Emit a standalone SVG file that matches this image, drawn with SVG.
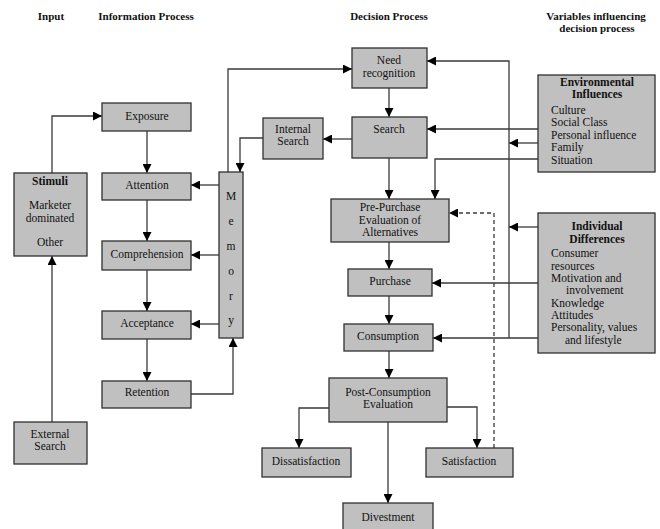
<svg xmlns="http://www.w3.org/2000/svg" width="660" height="529" viewBox="0 0 660 529">
<defs>
<marker id="ah" markerUnits="userSpaceOnUse" markerWidth="9" markerHeight="9" refX="9" refY="4.5" orient="auto">
<path d="M0,0 L9,4.5 L0,9 z" fill="#000"/>
</marker>
<style>
text{font-family:'Liberation Serif','Times New Roman','DejaVu Serif',serif}
.box{fill:#c0c0c0;stroke:#303030;stroke-width:1.3}
.t{font-size:11.5px;fill:#111;text-anchor:middle}
.l{text-anchor:start}
.b{font-weight:bold}
.h{font-size:11px;font-weight:bold;fill:#111;text-anchor:middle}
.c{fill:none;stroke:#3a3a3a;stroke-width:1.3}
.a{marker-end:url(#ah)}
.d{stroke-dasharray:4,3}
</style>
</defs>
<rect width="660" height="529" fill="#fff"/>
<g id="headers" font-family="Liberation Serif, serif">
<text class="h" x="51" y="20">Input</text>
<text class="h" x="146" y="20">Information Process</text>
<text class="h" x="389" y="20">Decision Process</text>
<text class="h" x="596" y="20">Variables influencing</text>
<text class="h" x="597" y="32">decision process</text>
</g>
<g id="connectors">
<path class="c a" d="M52,422 V256"/>
<path class="c a" d="M52,173 V116 H102"/>
<path class="c a" d="M147,131 V173"/>
<path class="c a" d="M147,200 V241"/>
<path class="c a" d="M147,270 V311"/>
<path class="c a" d="M147,339 V381"/>
<path class="c a" d="M191,394 H233 V338"/>
<path class="c a" d="M219,185 H191"/>
<path class="c a" d="M219,255 H191"/>
<path class="c a" d="M219,324 H191"/>
<path class="c a" d="M228,172 V69 H352"/>
<path class="c a" d="M389,88 V117"/>
<path class="c a" d="M352,139 H323"/>
<path class="c a" d="M263,138 H240 V172"/>
<path class="c a" d="M389,158 V199"/>
<path class="c a" d="M389,242 V269"/>
<path class="c a" d="M389,296 V324"/>
<path class="c a" d="M389,351 V378"/>
<path class="c a" d="M329,408 H299 V448"/>
<path class="c a" d="M447,407 H477 V448"/>
<path class="c a" d="M388,422 V503"/>
<path class="c a d" d="M494,448 V213 H449"/>
<path class="c a" d="M538,129 H427"/>
<path class="c a" d="M538,143 H509"/>
<path class="c a" d="M509,338 V61 H427"/>
<path class="c a" d="M538,159 H435 V199"/>
<path class="c a" d="M538,227 H509"/>
<path class="c a" d="M538,283 H432"/>
<path class="c a" d="M538,338 H433"/>
</g>
<g id="stimuli">
<rect class="box" x="14" y="173" width="73" height="83"/>
<text class="t b" x="50" y="185">Stimuli</text>
<text class="t" x="50" y="209">Marketer</text>
<text class="t" x="50" y="222">dominated</text>
<text class="t" x="50" y="246">Other</text>
</g>
<g id="external-search">
<rect class="box" x="14" y="422" width="73" height="42"/>
<text class="t" x="50" y="438">External</text>
<text class="t" x="50" y="450">Search</text>
</g>
<g id="exposure">
<rect class="box" x="102" y="103" width="89" height="28"/>
<text class="t" x="147" y="120">Exposure</text>
</g>
<g id="attention">
<rect class="box" x="102" y="173" width="89" height="27"/>
<text class="t" x="147" y="189">Attention</text>
</g>
<g id="comprehension">
<rect class="box" x="102" y="241" width="89" height="29"/>
<text class="t" x="147" y="258">Comprehension</text>
</g>
<g id="acceptance">
<rect class="box" x="102" y="311" width="89" height="28"/>
<text class="t" x="147" y="327">Acceptance</text>
</g>
<g id="retention">
<rect class="box" x="102" y="381" width="89" height="27"/>
<text class="t" x="147" y="396">Retention</text>
</g>
<g id="memory">
<rect class="box" x="219" y="172" width="24" height="166"/>
<text class="t" x="231" y="200">M</text>
<text class="t" x="231" y="225">e</text>
<text class="t" x="231" y="250">m</text>
<text class="t" x="231" y="275">o</text>
<text class="t" x="231" y="300">r</text>
<text class="t" x="231" y="324">y</text>
</g>
<g id="internal-search">
<rect class="box" x="263" y="118" width="60" height="41"/>
<text class="t" x="293" y="133">Internal</text>
<text class="t" x="293" y="145">Search</text>
</g>
<g id="need-recognition">
<rect class="box" x="352" y="48" width="75" height="40"/>
<text class="t" x="389" y="64">Need</text>
<text class="t" x="389" y="77">recognition</text>
</g>
<g id="search">
<rect class="box" x="352" y="117" width="75" height="41"/>
<text class="t" x="389" y="133">Search</text>
</g>
<g id="pre-purchase">
<rect class="box" x="331" y="199" width="118" height="43"/>
<text class="t" x="390" y="211">Pre-Purchase</text>
<text class="t" x="390" y="224">Evaluation of</text>
<text class="t" x="390" y="236">Alternatives</text>
</g>
<g id="purchase">
<rect class="box" x="348" y="269" width="84" height="27"/>
<text class="t" x="390" y="285">Purchase</text>
</g>
<g id="consumption">
<rect class="box" x="344" y="324" width="89" height="27"/>
<text class="t" x="388" y="340">Consumption</text>
</g>
<g id="post-consumption">
<rect class="box" x="329" y="378" width="118" height="44"/>
<text class="t" x="388" y="396">Post-Consumption</text>
<text class="t" x="388" y="408">Evaluation</text>
</g>
<g id="dissatisfaction">
<rect class="box" x="262" y="448" width="89" height="29"/>
<text class="t" x="306" y="465">Dissatisfaction</text>
</g>
<g id="satisfaction">
<rect class="box" x="426" y="448" width="87" height="29"/>
<text class="t" x="469" y="465">Satisfaction</text>
</g>
<g id="divestment">
<rect class="box" x="343" y="503" width="90" height="30"/>
<text class="t" x="388" y="521">Divestment</text>
</g>
<g id="environmental-influences">
<rect class="box" x="538" y="75" width="117" height="97"/>
<text class="t b" x="597" y="86">Environmental</text>
<text class="t b" x="597" y="98">Influences</text>
<text class="t l" x="551" y="114">Culture</text>
<text class="t l" x="551" y="126">Social Class</text>
<text class="t l" x="551" y="139">Personal influence</text>
<text class="t l" x="551" y="151">Family</text>
<text class="t l" x="551" y="164">Situation</text>
</g>
<g id="individual-differences">
<rect class="box" x="538" y="213" width="117" height="140"/>
<text class="t b" x="597" y="230">Individual</text>
<text class="t b" x="597" y="243">Differences</text>
<text class="t l" x="551" y="257">Consumer</text>
<text class="t l" x="551" y="270">resources</text>
<text class="t l" x="551" y="282">Motivation and</text>
<text class="t l" x="566" y="294">involvement</text>
<text class="t l" x="551" y="307">Knowledge</text>
<text class="t l" x="551" y="319">Attitudes</text>
<text class="t l" x="551" y="331">Personality, values</text>
<text class="t l" x="565" y="344">and lifestyle</text>
</g>
</svg>
